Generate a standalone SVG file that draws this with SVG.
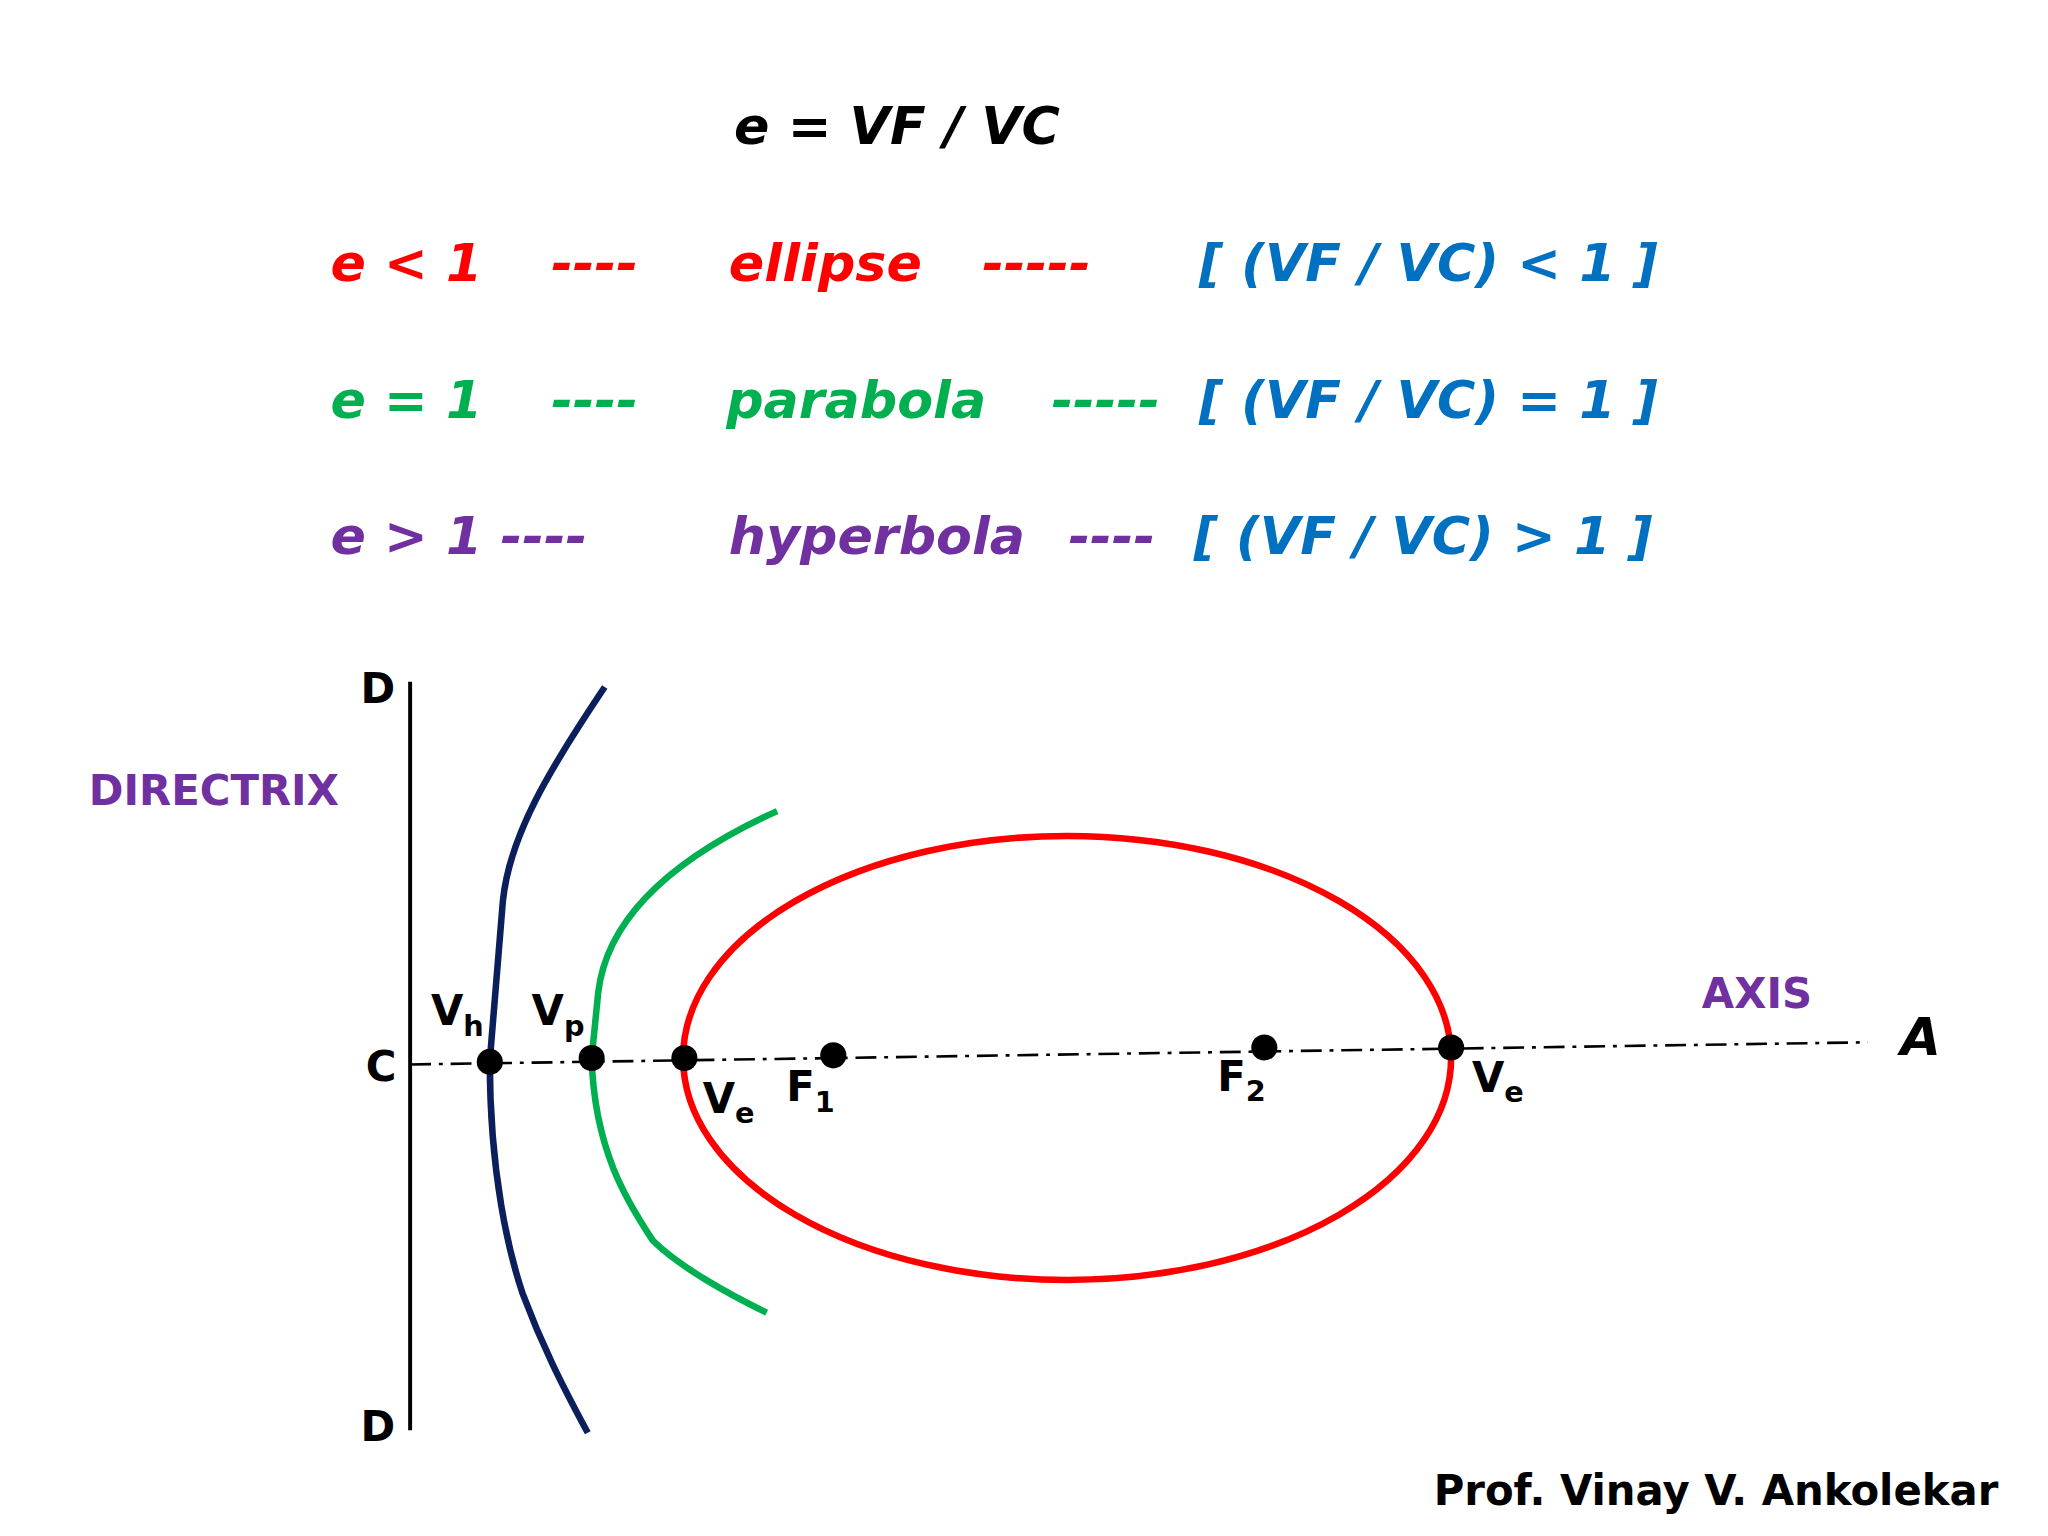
<svg xmlns="http://www.w3.org/2000/svg" width="2048" height="1536" viewBox="0 0 2048 1536">
<style>
.h{font-family:"DejaVu Sans",Verdana,sans-serif;font-weight:bold;font-style:italic;font-size:40px}
.l{font-family:"DejaVu Sans",Verdana,sans-serif;font-weight:bold;font-size:32px}
.s{font-size:22px}
.r{fill:#ff0000}.g{fill:#00b050}.p{fill:#7030a0}.b{fill:#0070c0}
.dot{fill:#000}
</style>
<rect width="2048" height="1536" fill="#fff"/>
<g transform="scale(1.30612)">
<g id="formulas">
<text class="h" x="562" y="110">e = VF / VC</text>
<text class="h r" x="253" y="215">e &lt; 1</text><text class="h r" x="422" y="215">----</text><text class="h r" x="558" y="215">ellipse</text><text class="h r" x="752" y="215">-----</text><text class="h b" x="918" y="215">[ (VF / VC) &lt; 1 ]</text>
<text class="h g" x="253" y="320">e = 1</text><text class="h g" x="422" y="320">----</text><text class="h g" x="556" y="320">parabola</text><text class="h g" x="805" y="320">-----</text><text class="h b" x="918" y="320">[ (VF / VC) = 1 ]</text>
<text class="h p" x="253" y="424">e &gt; 1 ----</text><text class="h p" x="558" y="424">hyperbola</text><text class="h p" x="818" y="424">----</text><text class="h b" x="914" y="424">[ (VF / VC) &gt; 1 ]</text>
</g>
<g id="connectors" fill="none">
<line x1="314" y1="522" x2="314" y2="1095" stroke="#000" stroke-width="3"/>
<line x1="314" y1="815" x2="1430" y2="798" stroke="#000" stroke-width="2" stroke-dasharray="16,6,3,6"/>
<path d="M463,526 C420,590 390,640 385,690 L375,812 C375,900 390,960 400,990 C415,1030 430,1060 450,1097" stroke="#0a1f5c" stroke-width="5"/>
<path d="M595,621 C520,655 465,700 458,760 L453,810 C455,880 480,920 500,950 C520,970 560,992 587,1005" stroke="#00b050" stroke-width="5"/>
<ellipse cx="817" cy="810" rx="294" ry="170" stroke="#ff0000" stroke-width="5"/>
</g>
<g id="points">
<circle class="dot" cx="375" cy="813" r="10"/><circle class="dot" cx="453" cy="810" r="10"/><circle class="dot" cx="524" cy="810" r="10"/><circle class="dot" cx="638" cy="808" r="10"/><circle class="dot" cx="968" cy="802" r="10"/><circle class="dot" cx="1111" cy="802" r="10"/>
</g>
<g id="labels">
<text class="l" x="276" y="538">D</text><text class="l" x="276" y="1103">D</text><text class="l" x="280" y="828">C</text>
<text class="l p" x="68" y="616">DIRECTRIX</text><text class="l p" x="1303" y="772">AXIS</text>
<text class="h" x="1455" y="808">A</text>
<text class="l" x="330" y="785">V<tspan class="s" dy="8">h</tspan></text>
<text class="l" x="407" y="785">V<tspan class="s" dy="8">p</tspan></text>
<text class="l" x="538" y="852">V<tspan class="s" dy="8">e</tspan></text>
<text class="l" x="602" y="843">F<tspan class="s" dy="8">1</tspan></text>
<text class="l" x="932" y="835">F<tspan class="s" dy="8">2</tspan></text>
<text class="l" x="1127" y="836">V<tspan class="s" dy="8">e</tspan></text>
<text class="l" x="1530" y="1152" text-anchor="end">Prof. Vinay V. Ankolekar</text>
</g>
</g>
</svg>
